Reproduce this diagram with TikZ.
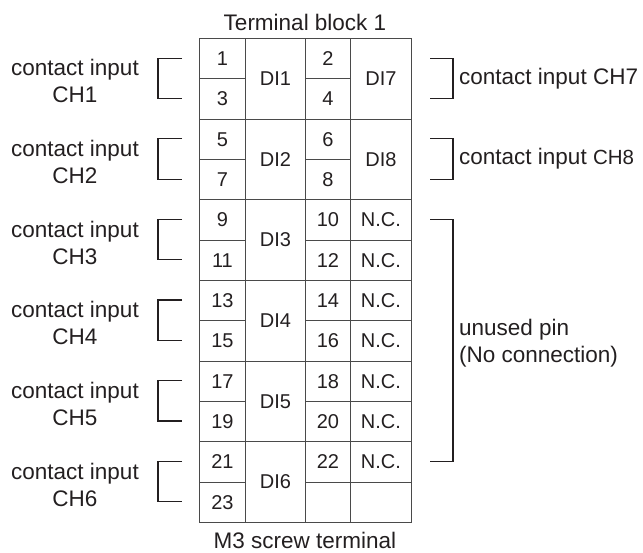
\documentclass[tikz,border=0pt]{standalone}
\usepackage{fontspec}
\setmainfont{Liberation Sans}
\definecolor{txt}{HTML}{231F20}
\definecolor{grid}{HTML}{4A4A4A}
\begin{document}
\begin{tikzpicture}[x=1pt,y=-1pt,
  cell/.style={draw=grid,line width=0.9pt,inner sep=0pt,anchor=north west,text=txt,font=\fontsize{20}{24}\selectfont},
  lbl/.style={text=txt,inner sep=0pt,font=\fontsize{22.5}{27}\selectfont},
  brk/.style={draw=txt,line width=1.3pt}]
\useasboundingbox (0,0) rectangle (643,552);
\def\rh{40.33}
\def\lift{\raisebox{-2pt}}
% left pin column
\foreach \i in {0,...,11}{
  \pgfmathtruncatemacro{\n}{2*\i+1}
  \node[cell,minimum width=46pt,minimum height=\rh pt] (L\i) at (199,38+\i*\rh) {\lift{\n}};
}
% DI column
\foreach \k in {0,...,5}{
  \pgfmathtruncatemacro{\n}{\k+1}
  \node[cell,minimum width=60pt,minimum height=2*\rh pt] (D\k) at (245,38+2*\k*\rh) {\lift{DI\n}};
}
% right pin column
\foreach \i in {0,...,10}{
  \pgfmathtruncatemacro{\n}{2*\i+2}
  \node[cell,minimum width=45pt,minimum height=\rh pt] (R\i) at (305,38+\i*\rh) {\lift{\n}};
}
\node[cell,minimum width=45pt,minimum height=\rh pt] (R11) at (305,38+11*\rh) {};
% right column
\node[cell,minimum width=61pt,minimum height=2*\rh pt] (E0) at (350,38) {\lift{DI7}};
\node[cell,minimum width=61pt,minimum height=2*\rh pt] (E1) at (350,38+2*\rh) {\lift{DI8}};
\foreach \i in {4,...,10}{
  \node[cell,minimum width=61pt,minimum height=\rh pt] (N\i) at (350,38+\i*\rh) {\lift{N.C.}};
}
\node[cell,minimum width=61pt,minimum height=\rh pt] (N11) at (350,38+11*\rh) {};
% titles
\node[lbl] (title) at (305,22) {Terminal block 1};
\node[lbl] (foot) at (305,540) {M3 screw terminal};
% left brackets and labels
\foreach \k in {0,...,5}{
  \pgfmathtruncatemacro{\n}{\k+1}
  \coordinate (lt\k) at (182,38+2*\k*\rh+0.5*\rh);
  \coordinate (lb\k) at (182,38+2*\k*\rh+1.5*\rh);
  \draw[brk] (lt\k) -- ++(-24,0) |- (lb\k);
  \node[lbl,align=center] (ch\k) at (75,38+2*\k*\rh+\rh+3) {contact input\\CH\n};
}
% right brackets
\coordinate (rt7) at (430,38+0.5*\rh);
\coordinate (rb7) at (430,38+1.5*\rh);
\draw[brk] (rt7) -- ++(23,0) |- (rb7);
\node[lbl,anchor=west] (ch7) at (459,38+\rh) {contact input CH7};
\coordinate (rt8) at (430,38+2.5*\rh);
\coordinate (rb8) at (430,38+3.5*\rh);
\draw[brk] (rt8) -- ++(23,0) |- (rb8);
\node[lbl,anchor=west] (ch8) at (459,38+3*\rh) {contact input {\fontsize{20.5}{24}\selectfont CH8}};
\coordinate (ut) at (430,38+4.5*\rh);
\coordinate (ub) at (430,38+10.5*\rh);
\draw[brk] (ut) -- ++(23,0) |- (ub);
\node[lbl,anchor=west,align=left] (unused) at (459,343) {unused pin\\(No connection)};
\end{tikzpicture}
\end{document}
